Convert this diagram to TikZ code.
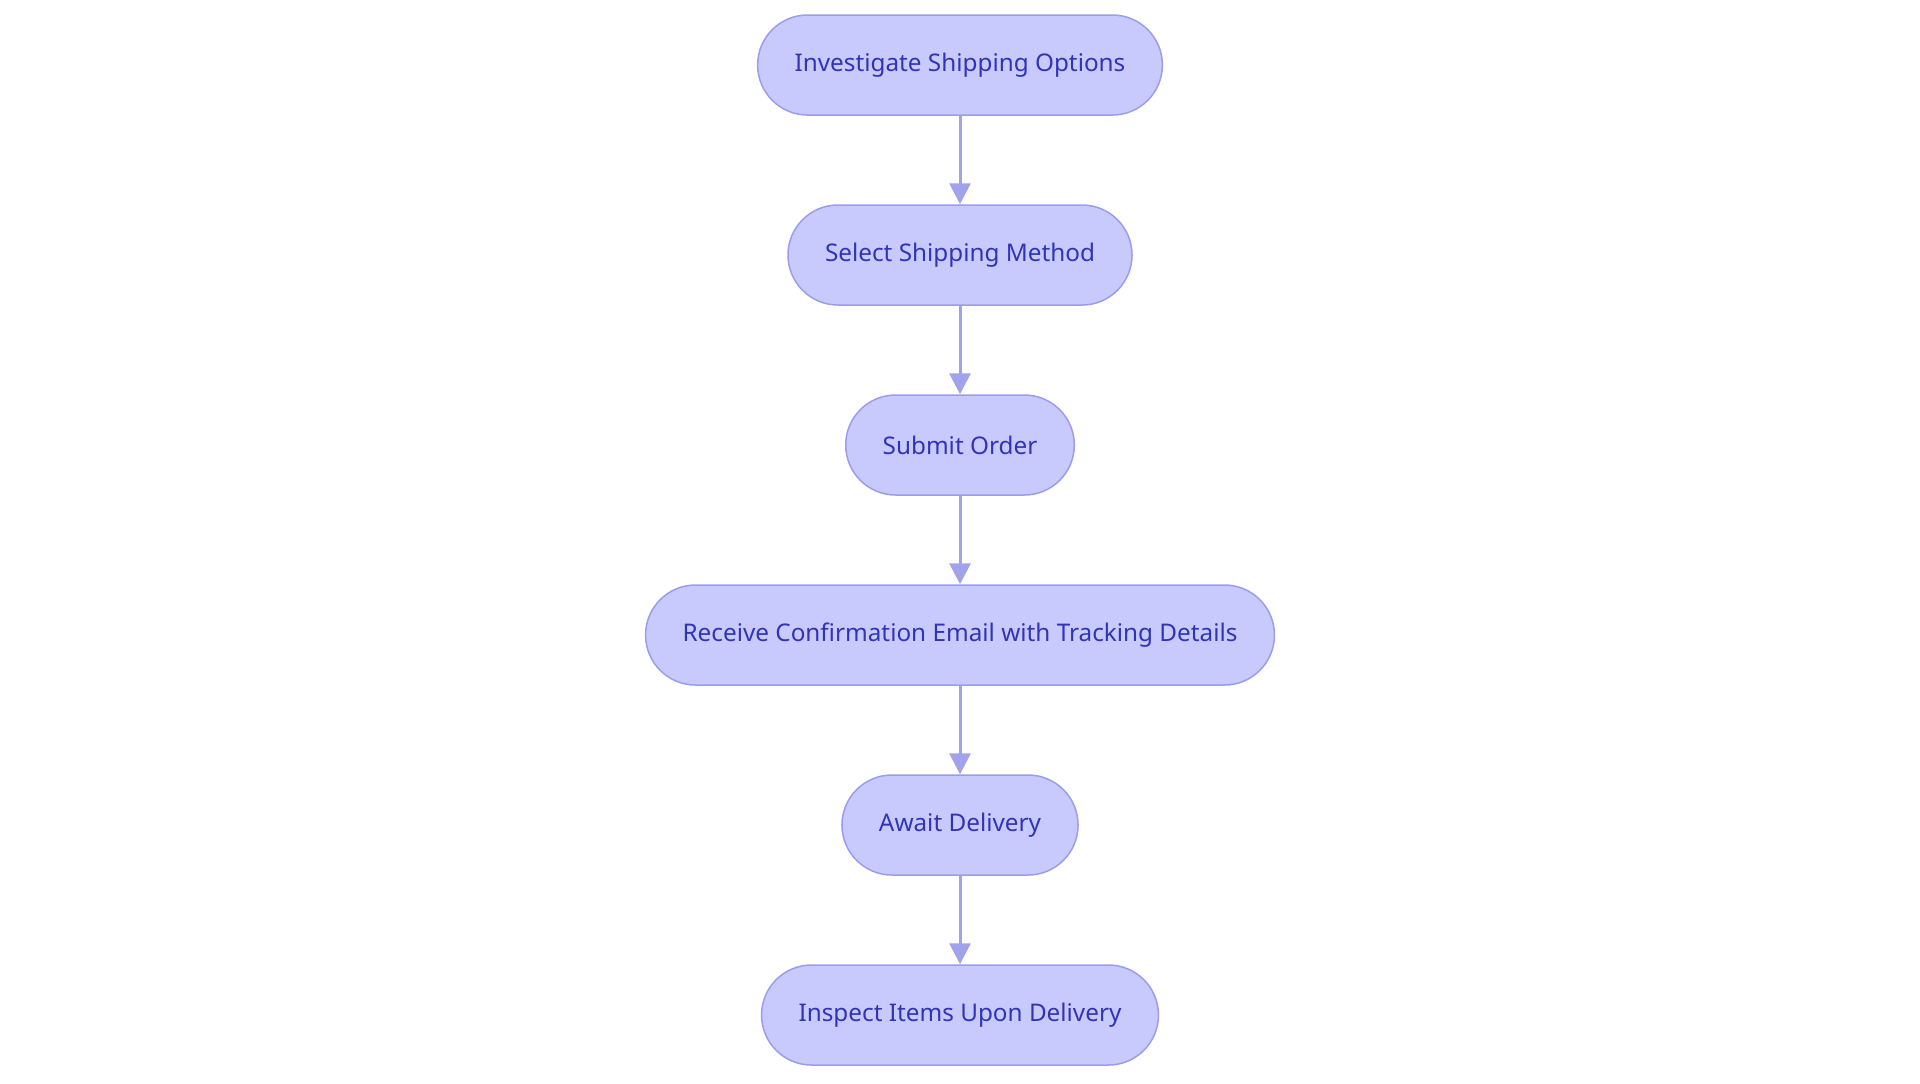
\documentclass[tikz,border=0pt]{standalone}
\usepackage{fontspec}
\setmainfont{Noto Sans}
\usetikzlibrary{positioning,arrows.meta}
\definecolor{stepfill}{HTML}{C8CAFE}
\definecolor{stepdraw}{HTML}{9A9DEB}
\definecolor{steptext}{HTML}{3034B6}
\definecolor{flow}{HTML}{A0A3EC}

\begin{document}
\begin{tikzpicture}[
  font=\fontsize{12.15}{14}\selectfont, node distance=44.25pt,
  >={Triangle[width=10.5pt, length=10.5pt]},
  stepbox/.style={draw=stepdraw, fill=stepfill, text=steptext, line width=0.75pt,
                  rounded corners=25pt, minimum height=50pt, inner xsep=18.5pt}]

\useasboundingbox (0,0) rectangle (960pt,-541.5pt);

\node (investigate) [stepbox] at (480pt,-32.5pt) {Investigate Shipping Options};
\node (select) [stepbox, below=of investigate] {Select Shipping Method};
\node (submit) [stepbox, below=of select] {Submit Order};
\node (confirm) [stepbox, below=of submit] {Receive Confirmation Email with Tracking Details};
\node (await) [stepbox, below=of confirm] {Await Delivery};
\node (inspect) [stepbox, below=of await] {Inspect Items Upon Delivery};

\foreach \a/\b in {investigate/select, select/submit, submit/confirm, confirm/await, await/inspect}
  \draw[->, flow, line width=1.5pt] (\a) -- (\b);
\end{tikzpicture}
\end{document}
